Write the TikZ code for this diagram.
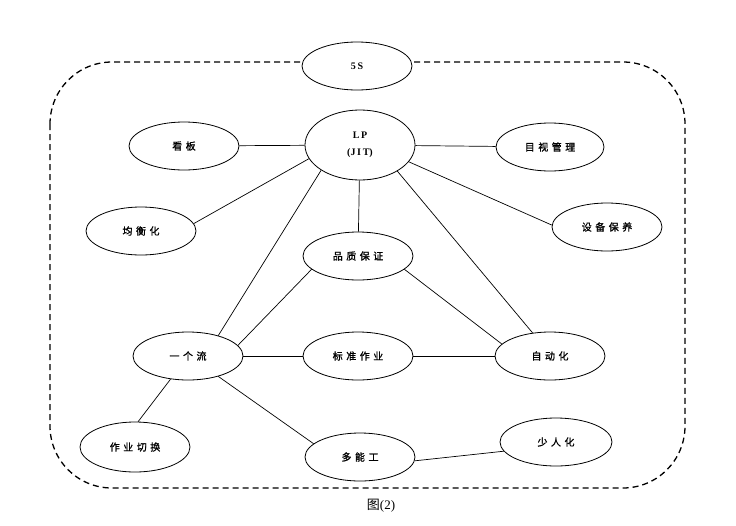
\documentclass[tikz,border=0pt]{standalone}
\usepackage{fontspec}
\setmainfont{Liberation Serif}
\newfontfamily\cjk[LetterSpace=35,FakeBold=1.2]{Noto Sans CJK SC}
\newfontfamily\cjkplain{Noto Sans CJK SC}
\usetikzlibrary{shapes.geometric}
\begin{document}
\begin{tikzpicture}[x=1pt,y=-1pt,
  ell/.style={ellipse,draw,line width=0.8pt,fill=white,minimum width=110pt,minimum height=48pt,inner sep=0pt,font=\cjk\fontsize{10}{12}\selectfont},
  lat/.style={font=\bfseries\fontsize{10}{12}\selectfont},
  con/.style={line width=0.7pt}]
\useasboundingbox (0,0) rectangle (736,525);
\draw[line width=1.3pt,dash pattern=on 6pt off 4pt,rounded corners=62pt] (50,62) rectangle (685,488);
\node[ell,lat] (s5) at (357,66) {5\,S};
\node[ell,lat,minimum height=70pt,align=center] (lp) at (360,145) {L\,P\\[5pt](J\,I\,T)};
\node[ell] (kb) at (184,146) {看板};
\node[ell] (jh) at (141,231) {均衡化};
\node[ell,minimum width=108pt] (ms) at (550,147) {目视管理};
\node[ell] (sb) at (607,227) {设备保养};
\node[ell] (pz) at (358,256) {品质保证};
\node[ell] (yl) at (188,356) {一个流};
\node[ell] (bz) at (358,356) {标准作业};
\node[ell] (zd) at (550,356) {自动化};
\node[ell,minimum height=50pt] (qh) at (135,447) {作业切换};
\node[ell] (dn) at (360,457) {多能工};
\node[ell,minimum width=112pt] (sr) at (556,442) {少人化};
\draw[con] (lp) -- (kb);
\draw[con] (lp.195) -- (jh.8);
\draw[con] (lp) -- (ms);
\draw[con] (lp.341) -- (sb.178);
\draw[con] (lp) -- (pz);
\draw[con] (lp.213) -- (yl.34);
\draw[con] (lp.325) -- (zd.127);
\draw[con] (pz.196) -- (yl.12);
\draw[con] (pz.344) -- (zd.166);
\draw[con] (yl) -- (bz);
\draw[con] (bz) -- (zd);
\draw[con] (yl.233) -- (qh.83);
\draw[con] (yl.326) -- (dn.164);
\draw[con] (dn.356) -- (sr.190);
\node[font=\cjkplain\fontsize{13}{15}\selectfont] (cap) at (381,506) {图\textrm{(2)}};
\end{tikzpicture}
\end{document}
